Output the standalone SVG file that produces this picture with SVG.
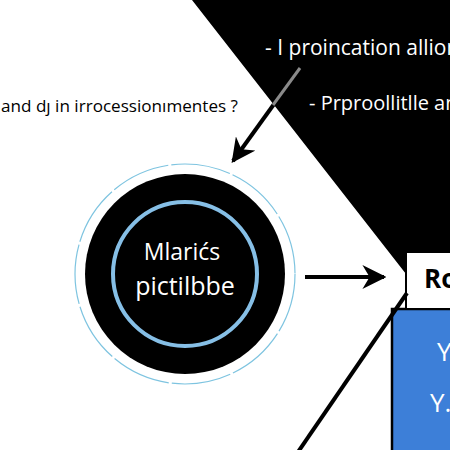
<svg xmlns="http://www.w3.org/2000/svg" width="450" height="450" viewBox="0 0 450 450">
<style>
.wt{fill:#ffffff;font-family:"Open Sans","Liberation Sans",sans-serif}
.bk{fill:#000000;font-family:"Open Sans","Liberation Sans",sans-serif}
.con{stroke:#000;stroke-width:4;fill:none}
</style>
<defs>
<marker id="ah" viewBox="0 0 10 10" refX="9" refY="5" markerWidth="6" markerHeight="6" markerUnits="strokeWidth" orient="auto">
<path d="M0,0 L10,5 L0,10 L3,5 Z" fill="#000"/>
</marker>
</defs>
<rect width="450" height="450" fill="#fff"/>
<g id="bg-black">
<polygon points="192,0 450,0 450,252 406,252 406,274" fill="#000"/>
</g>
<g id="text-top">
<text class="wt" x="265" y="55" font-size="21">- I proincation allion</text>
<text class="wt" x="309" y="110" font-size="20">- Prproollitlle an</text>
</g>
<g id="text-left">
<text class="bk" x="1" y="112" font-size="16" textLength="237" lengthAdjust="spacingAndGlyphs">and dȷ in irrocessionımentes ?</text>
</g>
<g id="node-circle">
<circle cx="185" cy="274" r="110" fill="none" stroke="#7ec4e0" stroke-width="1.2" stroke-dasharray="60 3"/>
<circle cx="185" cy="274" r="100" fill="#000"/>
<circle cx="185" cy="274" r="72" fill="none" stroke="#86bfe6" stroke-width="4"/>
<text class="wt" x="182" y="260" font-size="23" text-anchor="middle">Mlarićs</text>
<text class="wt" x="185" y="295" font-size="25" text-anchor="middle">pictilbbe</text>
</g>
<g id="node-blue">
<rect x="392" y="309" width="62" height="145" fill="#3d7fd8" stroke="#000" stroke-width="2.5"/>
<text class="wt" x="437" y="361" font-size="26">Y</text>
<text class="wt" x="430" y="412" font-size="26">Y.</text>
</g>
<g id="node-box">
<rect x="406" y="252" width="50" height="57" fill="#fff" stroke="#000" stroke-width="2"/>
<text class="bk" x="424" y="288" font-size="26" font-weight="bold">Ro</text>
</g>
<g id="connectors">
<line class="con" x1="300" y1="68" x2="233" y2="161" marker-end="url(#ah)" stroke-width="3.5"/>
<line x1="300" y1="68" x2="273" y2="105" stroke="#8a8a8a" stroke-width="3"/>
<line class="con" x1="305" y1="277" x2="384" y2="277" marker-end="url(#ah)"/>
<line class="con" x1="407" y1="293" x2="298" y2="452" stroke-width="5"/>
</g>
</svg>
